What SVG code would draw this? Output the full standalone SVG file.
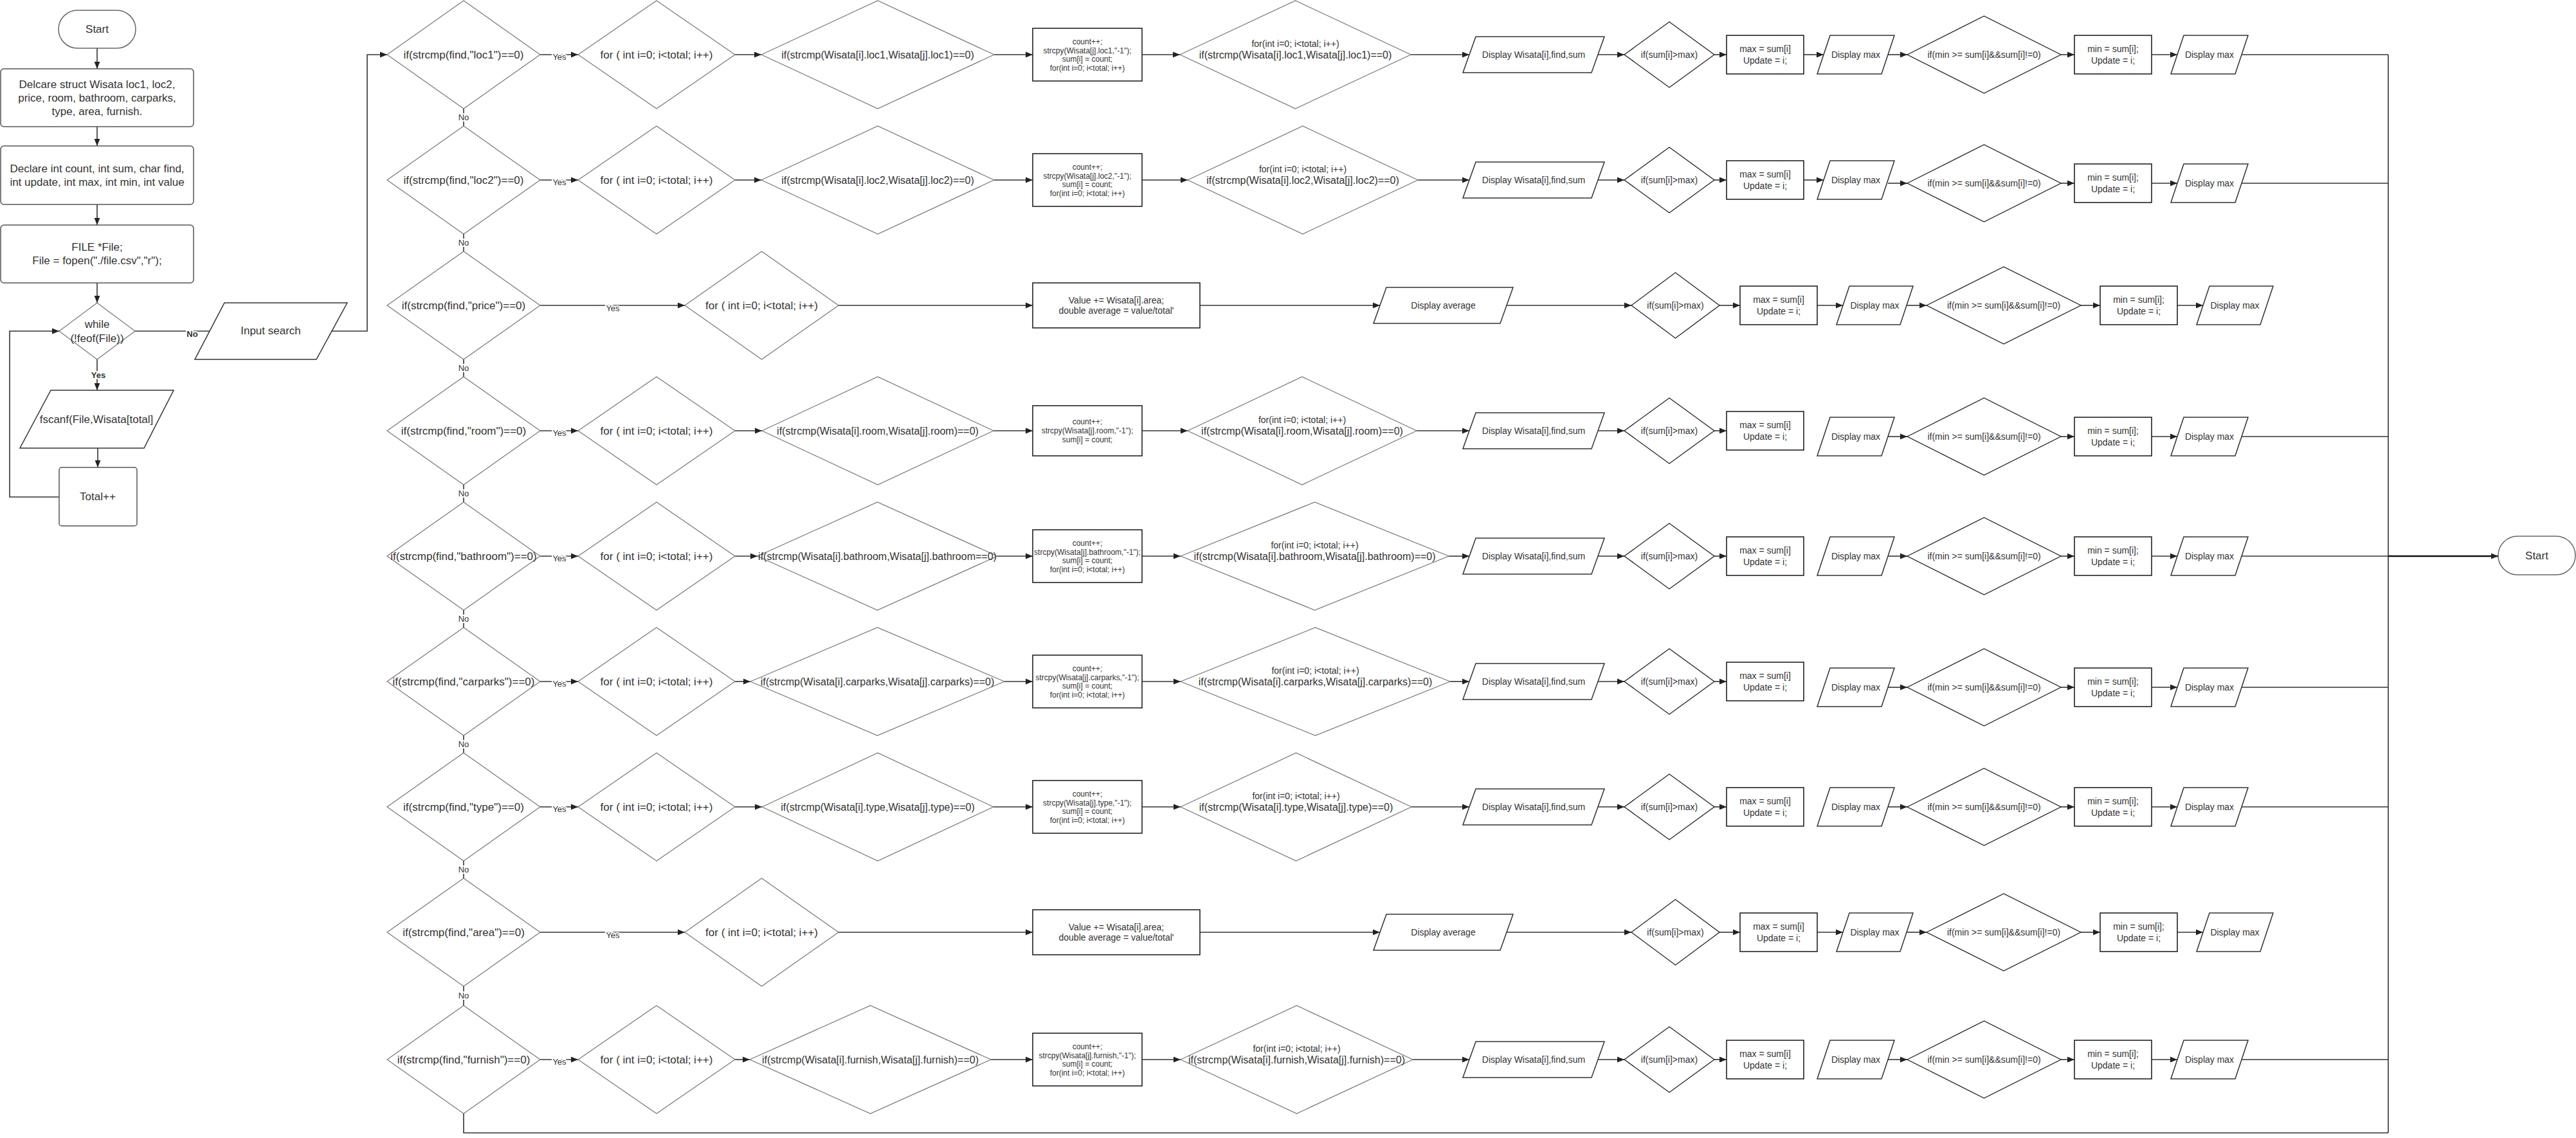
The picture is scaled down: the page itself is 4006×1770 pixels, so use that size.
<svg xmlns="http://www.w3.org/2000/svg" width="4006" height="1770" viewBox="0 0 4006 1770">
<defs>
<marker id="ah" viewBox="0 0 10 10" refX="10" refY="5" markerWidth="11" markerHeight="11" markerUnits="userSpaceOnUse" orient="auto"><path d="M0,1 L10,5 L0,9 z" fill="#222"/></marker>
<style>
.t{font-family:"Liberation Sans",Arial,sans-serif;fill:#333;text-anchor:middle}
.f17{font-size:17px}.f16{font-size:16px}.f14{font-size:14px}.f12{font-size:12px}
.lbl{font-size:13px;paint-order:stroke;stroke:#fff;stroke-width:4px;stroke-linejoin:round}
.b{font-weight:bold}
.dia{fill:#fff;stroke:#777;stroke-width:1.2}
.dk{fill:#fff;stroke:#222;stroke-width:1.3}
.box{fill:#fff;stroke:#222;stroke-width:1.6}
.lb{fill:#fff;stroke:#555;stroke-width:1.5}
.par{fill:#fff;stroke:#333;stroke-width:1.5}
.term{fill:#fff;stroke:#666;stroke-width:1.5}
.c{fill:none;stroke:#333;stroke-width:1.6}
.a{marker-end:url(#ah)}
.thick{stroke:#111;stroke-width:2.6}
</style>
</defs>
<rect width="4006" height="1770" fill="#fff"/>

<g id="connectors">
<path class="c a" d="M151,75 V107"/>
<path class="c a" d="M151,197 V227"/>
<path class="c a" d="M151,318 V350"/>
<path class="c a" d="M151,440 V471"/>
<path class="c a" d="M151,559 V607"/>
<text class="t lbl b" x="153" y="588">Yes</text>
<path class="c a" d="M152,697 V727"/>
<path class="c a" d="M92,773 H15 V515 H92"/>
<path class="c" d="M210,515 H326"/>
<text class="t lbl b" x="299" y="524">No</text>
<path class="c a" d="M516,515 H571 V85 H602"/>

<!-- column of No branches -->
<path class="c" d="M721,169 V196"/><text class="t lbl" x="721" y="187">No</text>
<path class="c" d="M721,364 V391"/><text class="t lbl" x="721" y="382">No</text>
<path class="c" d="M721,559 V586"/><text class="t lbl" x="721" y="577">No</text>
<path class="c" d="M721,754 V781"/><text class="t lbl" x="721" y="772">No</text>
<path class="c" d="M721,949 V976"/><text class="t lbl" x="721" y="967">No</text>
<path class="c" d="M721,1144 V1171"/><text class="t lbl" x="721" y="1162">No</text>
<path class="c" d="M721,1339 V1366"/><text class="t lbl" x="721" y="1357">No</text>
<path class="c" d="M721,1534 V1564"/><text class="t lbl" x="721" y="1553">No</text>
<path class="c" d="M721,1732 V1762 H3714"/>
<path class="c" d="M3714,85 V1762"/>
<path class="c a thick" d="M3714,865 H3885"/>

<!-- row 1 -->
<path class="c a" d="M840,85 H899"/><text class="t lbl" x="870" y="93">Yes</text>
<path class="c a" d="M1143,85 H1184"/>
<path class="c a" d="M1546,85 H1606"/>
<path class="c a" d="M1776,85 H1835"/>
<path class="c a" d="M2194,85 H2285"/>
<path class="c a" d="M2485,85 H2526"/>
<path class="c a" d="M2666,85 H2685"/>
<path class="c a" d="M2805,85 H2836"/>
<path class="c a" d="M2936,85 H2966"/>
<path class="c a" d="M3205,85 H3226"/>
<path class="c a" d="M3346,85 H3386"/>
<path class="c" d="M3486,85 H3714"/>

<!-- row 2 -->
<path class="c a" d="M840,280 H899"/><text class="t lbl" x="870" y="288">Yes</text>
<path class="c a" d="M1143,280 H1184"/>
<path class="c a" d="M1546,280 H1606"/>
<path class="c a" d="M1776,280 H1847"/>
<path class="c a" d="M2205,280 H2285"/>
<path class="c a" d="M2485,280 H2526"/>
<path class="c a" d="M2666,280 H2685"/>
<path class="c a" d="M2805,280 H2836"/>
<path class="c a" d="M2936,285 H2966"/>
<path class="c a" d="M3205,285 H3226"/>
<path class="c a" d="M3346,285 H3386"/>
<path class="c" d="M3486,285 H3714"/>

<!-- row 3 -->
<path class="c a" d="M840,475 H1065"/><text class="t lbl" x="953" y="484">Yes</text>
<path class="c a" d="M1304,475 H1606"/>
<path class="c a" d="M1866,475 H2146"/>
<path class="c a" d="M2343,475 H2537"/>
<path class="c a" d="M2674,475 H2706"/>
<path class="c a" d="M2826,475 H2866"/>
<path class="c a" d="M2965,475 H2996"/>
<path class="c a" d="M3236,475 H3266"/>
<path class="c a" d="M3386,475 H3426"/>

<!-- row 4 -->
<path class="c a" d="M840,670 H899"/><text class="t lbl" x="870" y="678">Yes</text>
<path class="c a" d="M1143,670 H1185"/>
<path class="c a" d="M1545,670 H1606"/>
<path class="c a" d="M1776,670 H1847"/>
<path class="c a" d="M2203,670 H2285"/>
<path class="c a" d="M2485,670 H2526"/>
<path class="c a" d="M2666,670 H2685"/>
<path class="c a" d="M2936,679 H2966"/>
<path class="c a" d="M3205,679 H3226"/>
<path class="c a" d="M3346,679 H3386"/>
<path class="c" d="M3486,679 H3714"/>

<!-- row 5 -->
<path class="c a" d="M840,865 H899"/><text class="t lbl" x="870" y="873">Yes</text>
<path class="c a" d="M1143,865 H1178"/>
<path class="c a" d="M1551,865 H1606"/>
<path class="c a" d="M1776,865 H1836"/>
<path class="c a" d="M2253,865 H2285"/>
<path class="c a" d="M2485,865 H2526"/>
<path class="c a" d="M2666,865 H2685"/>
<path class="c a" d="M2936,865 H2966"/>
<path class="c a" d="M3205,865 H3226"/>
<path class="c a" d="M3346,865 H3386"/>
<path class="c" d="M3486,865 H3714"/>

<!-- row 6 -->
<path class="c a" d="M840,1060 H899"/><text class="t lbl" x="870" y="1068">Yes</text>
<path class="c a" d="M1143,1060 H1167"/>
<path class="c a" d="M1562,1060 H1606"/>
<path class="c a" d="M1776,1060 H1836"/>
<path class="c a" d="M2255,1060 H2285"/>
<path class="c a" d="M2485,1060 H2526"/>
<path class="c a" d="M2666,1060 H2685"/>
<path class="c a" d="M2936,1069 H2966"/>
<path class="c a" d="M3205,1069 H3226"/>
<path class="c a" d="M3346,1069 H3386"/>
<path class="c" d="M3486,1069 H3714"/>

<!-- row 7 -->
<path class="c a" d="M840,1255 H899"/><text class="t lbl" x="870" y="1263">Yes</text>
<path class="c a" d="M1143,1255 H1185"/>
<path class="c a" d="M1545,1255 H1606"/>
<path class="c a" d="M1776,1255 H1836"/>
<path class="c a" d="M2195,1255 H2285"/>
<path class="c a" d="M2485,1255 H2526"/>
<path class="c a" d="M2666,1255 H2685"/>
<path class="c a" d="M2936,1255 H2966"/>
<path class="c a" d="M3205,1255 H3226"/>
<path class="c a" d="M3346,1255 H3386"/>
<path class="c" d="M3486,1255 H3714"/>

<!-- row 8 -->
<path class="c a" d="M840,1450 H1065"/><text class="t lbl" x="953" y="1459">Yes</text>
<path class="c a" d="M1304,1450 H1606"/>
<path class="c a" d="M1866,1450 H2146"/>
<path class="c a" d="M2343,1450 H2537"/>
<path class="c a" d="M2674,1450 H2706"/>
<path class="c a" d="M2826,1450 H2866"/>
<path class="c a" d="M2965,1450 H2996"/>
<path class="c a" d="M3236,1450 H3266"/>
<path class="c a" d="M3386,1450 H3426"/>

<!-- row 9 -->
<path class="c a" d="M840,1648 H899"/><text class="t lbl" x="870" y="1656">Yes</text>
<path class="c a" d="M1143,1648 H1166"/>
<path class="c a" d="M1541,1648 H1606"/>
<path class="c a" d="M1776,1648 H1836"/>
<path class="c a" d="M2197,1648 H2285"/>
<path class="c a" d="M2485,1648 H2526"/>
<path class="c a" d="M2666,1648 H2685"/>
<path class="c a" d="M2936,1648 H2966"/>
<path class="c a" d="M3205,1648 H3226"/>
<path class="c a" d="M3346,1648 H3386"/>
<path class="c" d="M3486,1648 H3714"/>
</g>

<!-- left column -->
<g id="start"><rect class="term" x="91" y="16" width="120" height="59" rx="29.5"/><text class="t f17" x="151" y="51">Start</text></g>
<g id="declare-struct"><rect class="lb" x="1" y="107" width="300" height="90" rx="5"/>
<text class="t f17" x="151" y="137">Delcare struct Wisata loc1, loc2,</text>
<text class="t f17" x="151" y="158">price, room, bathroom, carparks,</text>
<text class="t f17" x="151" y="179">type, area, furnish.</text></g>
<g id="declare-vars"><rect class="lb" x="1" y="227" width="300" height="91" rx="5"/>
<text class="t f17" x="151" y="268">Declare int count, int sum, char find,</text>
<text class="t f17" x="151" y="289">int update, int max, int min, int value</text></g>
<g id="file-open"><rect class="lb" x="1" y="350" width="300" height="90" rx="5"/>
<text class="t f17" x="151" y="390">FILE *File;</text>
<text class="t f17" x="151" y="411">File = fopen("./file.csv","r");</text></g>
<g id="while"><polygon class="dia" points="92,515 151,471 210,515 151,559"/>
<text class="t f17" x="151" y="510">while</text><text class="t f17" x="151" y="532">(!feof(File))</text></g>
<g id="fscanf"><polygon class="par" points="79,607 270,607 224,697 31,697"/><text class="t f17" x="150" y="658">fscanf(File,Wisata[total]</text></g>
<g id="total"><rect class="lb" x="92" y="727" width="121" height="91" rx="4"/><text class="t f17" x="152" y="778">Total++</text></g>
<g id="input-search"><polygon class="par" points="349,471 540,471 492,559 303,559"/><text class="t f17" x="421" y="520">Input search</text></g>

<!-- row 1 : loc1 -->
<g id="r1-if"><polygon class="dia" points="602,85 721,1 840,85 721,169"/><text class="t f17" x="721" y="91">if(strcmp(find,"loc1")==0)</text></g>
<g id="r1-for"><polygon class="dia" points="899,85 1021,1 1143,85 1021,169"/><text class="t f17" x="1021" y="91">for ( int i=0; i&lt;total; i++)</text></g>
<g id="r1-cmp"><polygon class="dia" points="1184,85 1365,1 1546,85 1365,169"/><text class="t f16" x="1365" y="91">if(strcmp(Wisata[i].loc1,Wisata[j].loc1)==0)</text></g>
<g id="r1-count"><rect class="box" x="1606" y="44" width="170" height="82"/>
<text class="t f12" x="1691" y="69">count++;</text><text class="t f12" x="1691" y="82.5">strcpy(Wisata[j].loc1,"-1");</text><text class="t f12" x="1691" y="96">sum[i] = count;</text><text class="t f12" x="1691" y="109.5">for(int i=0; i&lt;total; i++)</text></g>
<g id="r1-loop"><polygon class="dia" points="1835,85 2014.5,1 2194,85 2014.5,169"/><text class="t f14" x="2014.5" y="73">for(int i=0; i&lt;total; i++)</text><text class="t f16" x="2014.5" y="91">if(strcmp(Wisata[i].loc1,Wisata[j].loc1)==0)</text></g>
<g id="r1-disp"><polygon class="par" points="2295,57 2495,57 2475,113 2275,113"/><text class="t f14" x="2385" y="90">Display Wisata[i],find,sum</text></g>
<g id="r1-ifmax"><polygon class="dk" points="2526,85 2596,34 2666,85 2596,136"/><text class="t f14" x="2596" y="90">if(sum[i]&gt;max)</text></g>
<g id="r1-max"><rect class="box" x="2685" y="55" width="120" height="60"/><text class="t f14" x="2745" y="81">max = sum[i]</text><text class="t f14" x="2745" y="99">Update = i;</text></g>
<g id="r1-dmax"><polygon class="par" points="2846,55 2946,55 2926,115 2826,115"/><text class="t f14" x="2886" y="90">Display max</text></g>
<g id="r1-ifmin"><polygon class="dk" points="2966,85 3085.5,25 3205,85 3085.5,145"/><text class="t f14" x="3085.5" y="90">if(min &gt;= sum[i]&amp;&amp;sum[i]!=0)</text></g>
<g id="r1-min"><rect class="box" x="3226" y="55" width="120" height="60"/><text class="t f14" x="3286" y="81">min = sum[i];</text><text class="t f14" x="3286" y="99">Update = i;</text></g>
<g id="r1-dmin"><polygon class="par" points="3396,55 3496,55 3476,115 3376,115"/><text class="t f14" x="3436" y="90">Display max</text></g>

<!-- row 2 : loc2 -->
<g id="r2-if"><polygon class="dia" points="602,280 721,196 840,280 721,364"/><text class="t f17" x="721" y="286">if(strcmp(find,"loc2")==0)</text></g>
<g id="r2-for"><polygon class="dia" points="899,280 1021,196 1143,280 1021,364"/><text class="t f17" x="1021" y="286">for ( int i=0; i&lt;total; i++)</text></g>
<g id="r2-cmp"><polygon class="dia" points="1184,280 1365,196 1546,280 1365,364"/><text class="t f16" x="1365" y="286">if(strcmp(Wisata[i].loc2,Wisata[j].loc2)==0)</text></g>
<g id="r2-count"><rect class="box" x="1606" y="239" width="170" height="82"/>
<text class="t f12" x="1691" y="264">count++;</text><text class="t f12" x="1691" y="277.5">strcpy(Wisata[j].loc2,"-1");</text><text class="t f12" x="1691" y="291">sum[i] = count;</text><text class="t f12" x="1691" y="304.5">for(int i=0; i&lt;total; i++)</text></g>
<g id="r2-loop"><polygon class="dia" points="1847,280 2026,196 2205,280 2026,364"/><text class="t f14" x="2026" y="268">for(int i=0; i&lt;total; i++)</text><text class="t f16" x="2026" y="286">if(strcmp(Wisata[i].loc2,Wisata[j].loc2)==0)</text></g>
<g id="r2-disp"><polygon class="par" points="2295,252 2495,252 2475,308 2275,308"/><text class="t f14" x="2385" y="285">Display Wisata[i],find,sum</text></g>
<g id="r2-ifmax"><polygon class="dk" points="2526,280 2596,229 2666,280 2596,331"/><text class="t f14" x="2596" y="285">if(sum[i]&gt;max)</text></g>
<g id="r2-max"><rect class="box" x="2685" y="250" width="120" height="60"/><text class="t f14" x="2745" y="276">max = sum[i]</text><text class="t f14" x="2745" y="294">Update = i;</text></g>
<g id="r2-dmax"><polygon class="par" points="2846,250 2946,250 2926,310 2826,310"/><text class="t f14" x="2886" y="285">Display max</text></g>
<g id="r2-ifmin"><polygon class="dk" points="2966,285 3085.5,225 3205,285 3085.5,345"/><text class="t f14" x="3085.5" y="290">if(min &gt;= sum[i]&amp;&amp;sum[i]!=0)</text></g>
<g id="r2-min"><rect class="box" x="3226" y="255" width="120" height="60"/><text class="t f14" x="3286" y="281">min = sum[i];</text><text class="t f14" x="3286" y="299">Update = i;</text></g>
<g id="r2-dmin"><polygon class="par" points="3396,255 3496,255 3476,315 3376,315"/><text class="t f14" x="3436" y="290">Display max</text></g>

<!-- row 3 : price -->
<g id="r3-if"><polygon class="dia" points="602,475 721,391 840,475 721,559"/><text class="t f17" x="721" y="481">if(strcmp(find,"price")==0)</text></g>
<g id="r3-for"><polygon class="dia" points="1065,475 1184.5,391 1304,475 1184.5,559"/><text class="t f17" x="1184.5" y="481">for ( int i=0; i&lt;total; i++)</text></g>
<g id="r3-value"><rect class="box" x="1606" y="440" width="260" height="70"/><text class="t f14" x="1736" y="472">Value += Wisata[i].area;</text><text class="t f14" x="1736" y="488">double average = value/total'</text></g>
<g id="r3-davg"><polygon class="par" points="2156,447 2353,447 2333,503 2136,503"/><text class="t f14" x="2244.5" y="480">Display average</text></g>
<g id="r3-ifmax"><polygon class="dk" points="2537,475 2605.5,424 2674,475 2605.5,526"/><text class="t f14" x="2605.5" y="480">if(sum[i]&gt;max)</text></g>
<g id="r3-max"><rect class="box" x="2706" y="445" width="120" height="60"/><text class="t f14" x="2766" y="471">max = sum[i]</text><text class="t f14" x="2766" y="489">Update = i;</text></g>
<g id="r3-dmax"><polygon class="par" points="2876,445 2975,445 2955,505 2856,505"/><text class="t f14" x="2915.5" y="480">Display max</text></g>
<g id="r3-ifmin"><polygon class="dk" points="2996,475 3116,415 3236,475 3116,535"/><text class="t f14" x="3116" y="480">if(min &gt;= sum[i]&amp;&amp;sum[i]!=0)</text></g>
<g id="r3-min"><rect class="box" x="3266" y="445" width="120" height="60"/><text class="t f14" x="3326" y="471">min = sum[i];</text><text class="t f14" x="3326" y="489">Update = i;</text></g>
<g id="r3-dmin"><polygon class="par" points="3436,445 3535,445 3515,505 3416,505"/><text class="t f14" x="3475.5" y="480">Display max</text></g>

<!-- row 4 : room -->
<g id="r4-if"><polygon class="dia" points="602,670 721,586 840,670 721,754"/><text class="t f17" x="721" y="676">if(strcmp(find,"room")==0)</text></g>
<g id="r4-for"><polygon class="dia" points="899,670 1021,586 1143,670 1021,754"/><text class="t f17" x="1021" y="676">for ( int i=0; i&lt;total; i++)</text></g>
<g id="r4-cmp"><polygon class="dia" points="1185,670 1365,586 1545,670 1365,754"/><text class="t f16" x="1365" y="676">if(strcmp(Wisata[i].room,Wisata[j].room)==0)</text></g>
<g id="r4-count"><rect class="box" x="1606" y="631" width="170" height="78"/>
<text class="t f12" x="1691" y="660">count++;</text><text class="t f12" x="1691" y="674">strcpy(Wisata[j].room,"-1");</text><text class="t f12" x="1691" y="688">sum[i] = count;</text></g>
<g id="r4-loop"><polygon class="dia" points="1847,670 2025,586 2203,670 2025,754"/><text class="t f14" x="2025" y="658">for(int i=0; i&lt;total; i++)</text><text class="t f16" x="2025" y="676">if(strcmp(Wisata[i].room,Wisata[j].room)==0)</text></g>
<g id="r4-disp"><polygon class="par" points="2295,642 2495,642 2475,698 2275,698"/><text class="t f14" x="2385" y="675">Display Wisata[i],find,sum</text></g>
<g id="r4-ifmax"><polygon class="dk" points="2526,670 2596,619 2666,670 2596,721"/><text class="t f14" x="2596" y="675">if(sum[i]&gt;max)</text></g>
<g id="r4-max"><rect class="box" x="2685" y="640" width="120" height="60"/><text class="t f14" x="2745" y="666">max = sum[i]</text><text class="t f14" x="2745" y="684">Update = i;</text></g>
<g id="r4-dmax"><polygon class="par" points="2846,649 2946,649 2926,709 2826,709"/><text class="t f14" x="2886" y="684">Display max</text></g>
<g id="r4-ifmin"><polygon class="dk" points="2966,679 3085.5,619 3205,679 3085.5,739"/><text class="t f14" x="3085.5" y="684">if(min &gt;= sum[i]&amp;&amp;sum[i]!=0)</text></g>
<g id="r4-min"><rect class="box" x="3226" y="649" width="120" height="60"/><text class="t f14" x="3286" y="675">min = sum[i];</text><text class="t f14" x="3286" y="693">Update = i;</text></g>
<g id="r4-dmin"><polygon class="par" points="3396,649 3496,649 3476,709 3376,709"/><text class="t f14" x="3436" y="684">Display max</text></g>

<!-- row 5 : bathroom -->
<g id="r5-if"><polygon class="dia" points="602,865 721,781 840,865 721,949"/><text class="t f17" x="721" y="871">if(strcmp(find,"bathroom")==0)</text></g>
<g id="r5-for"><polygon class="dia" points="899,865 1021,781 1143,865 1021,949"/><text class="t f17" x="1021" y="871">for ( int i=0; i&lt;total; i++)</text></g>
<g id="r5-cmp"><polygon class="dia" points="1178,865 1364.5,781 1551,865 1364.5,949"/><text class="t f16" x="1364.5" y="871">if(strcmp(Wisata[i].bathroom,Wisata[j].bathroom==0)</text></g>
<g id="r5-count"><rect class="box" x="1606" y="824" width="170" height="82"/>
<text class="t f12" x="1691" y="849">count++;</text><text class="t f12" x="1691" y="862.5">strcpy(Wisata[j].bathroom,"-1");</text><text class="t f12" x="1691" y="876">sum[i] = count;</text><text class="t f12" x="1691" y="889.5">for(int i=0; i&lt;total; i++)</text></g>
<g id="r5-loop"><polygon class="dia" points="1836,865 2044.5,781 2253,865 2044.5,949"/><text class="t f14" x="2044.5" y="853">for(int i=0; i&lt;total; i++)</text><text class="t f16" x="2044.5" y="871">if(strcmp(Wisata[i].bathroom,Wisata[j].bathroom)==0)</text></g>
<g id="r5-disp"><polygon class="par" points="2295,837 2495,837 2475,893 2275,893"/><text class="t f14" x="2385" y="870">Display Wisata[i],find,sum</text></g>
<g id="r5-ifmax"><polygon class="dk" points="2526,865 2596,814 2666,865 2596,916"/><text class="t f14" x="2596" y="870">if(sum[i]&gt;max)</text></g>
<g id="r5-max"><rect class="box" x="2685" y="835" width="120" height="60"/><text class="t f14" x="2745" y="861">max = sum[i]</text><text class="t f14" x="2745" y="879">Update = i;</text></g>
<g id="r5-dmax"><polygon class="par" points="2846,835 2946,835 2926,895 2826,895"/><text class="t f14" x="2886" y="870">Display max</text></g>
<g id="r5-ifmin"><polygon class="dk" points="2966,865 3085.5,805 3205,865 3085.5,925"/><text class="t f14" x="3085.5" y="870">if(min &gt;= sum[i]&amp;&amp;sum[i]!=0)</text></g>
<g id="r5-min"><rect class="box" x="3226" y="835" width="120" height="60"/><text class="t f14" x="3286" y="861">min = sum[i];</text><text class="t f14" x="3286" y="879">Update = i;</text></g>
<g id="r5-dmin"><polygon class="par" points="3396,835 3496,835 3476,895 3376,895"/><text class="t f14" x="3436" y="870">Display max</text></g>

<!-- row 6 : carparks -->
<g id="r6-if"><polygon class="dia" points="602,1060 721,976 840,1060 721,1144"/><text class="t f17" x="721" y="1066">if(strcmp(find,"carparks")==0)</text></g>
<g id="r6-for"><polygon class="dia" points="899,1060 1021,976 1143,1060 1021,1144"/><text class="t f17" x="1021" y="1066">for ( int i=0; i&lt;total; i++)</text></g>
<g id="r6-cmp"><polygon class="dia" points="1167,1060 1364.5,976 1562,1060 1364.5,1144"/><text class="t f16" x="1364.5" y="1066">if(strcmp(Wisata[i].carparks,Wisata[j].carparks)==0)</text></g>
<g id="r6-count"><rect class="box" x="1606" y="1019" width="170" height="82"/>
<text class="t f12" x="1691" y="1044">count++;</text><text class="t f12" x="1691" y="1057.5">strcpy(Wisata[j].carparks,"-1");</text><text class="t f12" x="1691" y="1071">sum[i] = count;</text><text class="t f12" x="1691" y="1084.5">for(int i=0; i&lt;total; i++)</text></g>
<g id="r6-loop"><polygon class="dia" points="1836,1060 2045.5,976 2255,1060 2045.5,1144"/><text class="t f14" x="2045.5" y="1048">for(int i=0; i&lt;total; i++)</text><text class="t f16" x="2045.5" y="1066">if(strcmp(Wisata[i].carparks,Wisata[j].carparks)==0)</text></g>
<g id="r6-disp"><polygon class="par" points="2295,1032 2495,1032 2475,1088 2275,1088"/><text class="t f14" x="2385" y="1065">Display Wisata[i],find,sum</text></g>
<g id="r6-ifmax"><polygon class="dk" points="2526,1060 2596,1009 2666,1060 2596,1111"/><text class="t f14" x="2596" y="1065">if(sum[i]&gt;max)</text></g>
<g id="r6-max"><rect class="box" x="2685" y="1030" width="120" height="60"/><text class="t f14" x="2745" y="1056">max = sum[i]</text><text class="t f14" x="2745" y="1074">Update = i;</text></g>
<g id="r6-dmax"><polygon class="par" points="2846,1039 2946,1039 2926,1099 2826,1099"/><text class="t f14" x="2886" y="1074">Display max</text></g>
<g id="r6-ifmin"><polygon class="dk" points="2966,1069 3085.5,1009 3205,1069 3085.5,1129"/><text class="t f14" x="3085.5" y="1074">if(min &gt;= sum[i]&amp;&amp;sum[i]!=0)</text></g>
<g id="r6-min"><rect class="box" x="3226" y="1039" width="120" height="60"/><text class="t f14" x="3286" y="1065">min = sum[i];</text><text class="t f14" x="3286" y="1083">Update = i;</text></g>
<g id="r6-dmin"><polygon class="par" points="3396,1039 3496,1039 3476,1099 3376,1099"/><text class="t f14" x="3436" y="1074">Display max</text></g>

<!-- row 7 : type -->
<g id="r7-if"><polygon class="dia" points="602,1255 721,1171 840,1255 721,1339"/><text class="t f17" x="721" y="1261">if(strcmp(find,"type")==0)</text></g>
<g id="r7-for"><polygon class="dia" points="899,1255 1021,1171 1143,1255 1021,1339"/><text class="t f17" x="1021" y="1261">for ( int i=0; i&lt;total; i++)</text></g>
<g id="r7-cmp"><polygon class="dia" points="1185,1255 1365,1171 1545,1255 1365,1339"/><text class="t f16" x="1365" y="1261">if(strcmp(Wisata[i].type,Wisata[j].type)==0)</text></g>
<g id="r7-count"><rect class="box" x="1606" y="1214" width="170" height="82"/>
<text class="t f12" x="1691" y="1239">count++;</text><text class="t f12" x="1691" y="1252.5">strcpy(Wisata[j].type,"-1");</text><text class="t f12" x="1691" y="1266">sum[i] = count;</text><text class="t f12" x="1691" y="1279.5">for(int i=0; i&lt;total; i++)</text></g>
<g id="r7-loop"><polygon class="dia" points="1836,1255 2015.5,1171 2195,1255 2015.5,1339"/><text class="t f14" x="2015.5" y="1243">for(int i=0; i&lt;total; i++)</text><text class="t f16" x="2015.5" y="1261">if(strcmp(Wisata[i].type,Wisata[j].type)==0)</text></g>
<g id="r7-disp"><polygon class="par" points="2295,1227 2495,1227 2475,1283 2275,1283"/><text class="t f14" x="2385" y="1260">Display Wisata[i],find,sum</text></g>
<g id="r7-ifmax"><polygon class="dk" points="2526,1255 2596,1204 2666,1255 2596,1306"/><text class="t f14" x="2596" y="1260">if(sum[i]&gt;max)</text></g>
<g id="r7-max"><rect class="box" x="2685" y="1225" width="120" height="60"/><text class="t f14" x="2745" y="1251">max = sum[i]</text><text class="t f14" x="2745" y="1269">Update = i;</text></g>
<g id="r7-dmax"><polygon class="par" points="2846,1225 2946,1225 2926,1285 2826,1285"/><text class="t f14" x="2886" y="1260">Display max</text></g>
<g id="r7-ifmin"><polygon class="dk" points="2966,1255 3085.5,1195 3205,1255 3085.5,1315"/><text class="t f14" x="3085.5" y="1260">if(min &gt;= sum[i]&amp;&amp;sum[i]!=0)</text></g>
<g id="r7-min"><rect class="box" x="3226" y="1225" width="120" height="60"/><text class="t f14" x="3286" y="1251">min = sum[i];</text><text class="t f14" x="3286" y="1269">Update = i;</text></g>
<g id="r7-dmin"><polygon class="par" points="3396,1225 3496,1225 3476,1285 3376,1285"/><text class="t f14" x="3436" y="1260">Display max</text></g>

<!-- row 8 : area -->
<g id="r8-if"><polygon class="dia" points="602,1450 721,1366 840,1450 721,1534"/><text class="t f17" x="721" y="1456">if(strcmp(find,"area")==0)</text></g>
<g id="r8-for"><polygon class="dia" points="1065,1450 1184.5,1366 1304,1450 1184.5,1534"/><text class="t f17" x="1184.5" y="1456">for ( int i=0; i&lt;total; i++)</text></g>
<g id="r8-value"><rect class="box" x="1606" y="1415" width="260" height="70"/><text class="t f14" x="1736" y="1447">Value += Wisata[i].area;</text><text class="t f14" x="1736" y="1463">double average = value/total'</text></g>
<g id="r8-davg"><polygon class="par" points="2156,1422 2353,1422 2333,1478 2136,1478"/><text class="t f14" x="2244.5" y="1455">Display average</text></g>
<g id="r8-ifmax"><polygon class="dk" points="2537,1450 2605.5,1399 2674,1450 2605.5,1501"/><text class="t f14" x="2605.5" y="1455">if(sum[i]&gt;max)</text></g>
<g id="r8-max"><rect class="box" x="2706" y="1420" width="120" height="60"/><text class="t f14" x="2766" y="1446">max = sum[i]</text><text class="t f14" x="2766" y="1464">Update = i;</text></g>
<g id="r8-dmax"><polygon class="par" points="2876,1420 2975,1420 2955,1480 2856,1480"/><text class="t f14" x="2915.5" y="1455">Display max</text></g>
<g id="r8-ifmin"><polygon class="dk" points="2996,1450 3116,1390 3236,1450 3116,1510"/><text class="t f14" x="3116" y="1455">if(min &gt;= sum[i]&amp;&amp;sum[i]!=0)</text></g>
<g id="r8-min"><rect class="box" x="3266" y="1420" width="120" height="60"/><text class="t f14" x="3326" y="1446">min = sum[i];</text><text class="t f14" x="3326" y="1464">Update = i;</text></g>
<g id="r8-dmin"><polygon class="par" points="3436,1420 3535,1420 3515,1480 3416,1480"/><text class="t f14" x="3475.5" y="1455">Display max</text></g>

<!-- row 9 : furnish -->
<g id="r9-if"><polygon class="dia" points="602,1648 721,1564 840,1648 721,1732"/><text class="t f17" x="721" y="1654">if(strcmp(find,"furnish")==0)</text></g>
<g id="r9-for"><polygon class="dia" points="899,1648 1021,1564 1143,1648 1021,1732"/><text class="t f17" x="1021" y="1654">for ( int i=0; i&lt;total; i++)</text></g>
<g id="r9-cmp"><polygon class="dia" points="1166,1648 1353.5,1564 1541,1648 1353.5,1732"/><text class="t f16" x="1353.5" y="1654">if(strcmp(Wisata[i].furnish,Wisata[j].furnish)==0)</text></g>
<g id="r9-count"><rect class="box" x="1606" y="1607" width="170" height="82"/>
<text class="t f12" x="1691" y="1632">count++;</text><text class="t f12" x="1691" y="1645.5">strcpy(Wisata[j].furnish,"-1");</text><text class="t f12" x="1691" y="1659">sum[i] = count;</text><text class="t f12" x="1691" y="1672.5">for(int i=0; i&lt;total; i++)</text></g>
<g id="r9-loop"><polygon class="dia" points="1836,1648 2016.5,1564 2197,1648 2016.5,1732"/><text class="t f14" x="2016.5" y="1636">for(int i=0; i&lt;total; i++)</text><text class="t f16" x="2016.5" y="1654">if(strcmp(Wisata[i].furnish,Wisata[j].furnish)==0)</text></g>
<g id="r9-disp"><polygon class="par" points="2295,1620 2495,1620 2475,1676 2275,1676"/><text class="t f14" x="2385" y="1653">Display Wisata[i],find,sum</text></g>
<g id="r9-ifmax"><polygon class="dk" points="2526,1648 2596,1597 2666,1648 2596,1699"/><text class="t f14" x="2596" y="1653">if(sum[i]&gt;max)</text></g>
<g id="r9-max"><rect class="box" x="2685" y="1618" width="120" height="60"/><text class="t f14" x="2745" y="1644">max = sum[i]</text><text class="t f14" x="2745" y="1662">Update = i;</text></g>
<g id="r9-dmax"><polygon class="par" points="2846,1618 2946,1618 2926,1678 2826,1678"/><text class="t f14" x="2886" y="1653">Display max</text></g>
<g id="r9-ifmin"><polygon class="dk" points="2966,1648 3085.5,1588 3205,1648 3085.5,1708"/><text class="t f14" x="3085.5" y="1653">if(min &gt;= sum[i]&amp;&amp;sum[i]!=0)</text></g>
<g id="r9-min"><rect class="box" x="3226" y="1618" width="120" height="60"/><text class="t f14" x="3286" y="1644">min = sum[i];</text><text class="t f14" x="3286" y="1662">Update = i;</text></g>
<g id="r9-dmin"><polygon class="par" points="3396,1618 3496,1618 3476,1678 3376,1678"/><text class="t f14" x="3436" y="1653">Display max</text></g>

<g id="end"><rect class="term" x="3885" y="834" width="120" height="60" rx="30"/><text class="t f17" x="3945" y="870">Start</text></g>
</svg>
